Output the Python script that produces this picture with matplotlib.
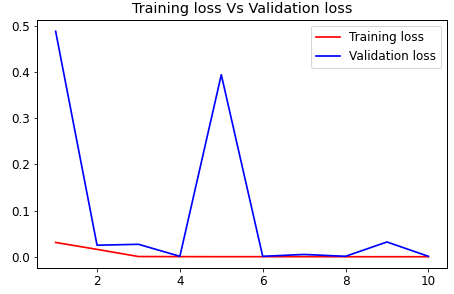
import matplotlib
matplotlib.use("Agg")
import matplotlib.pyplot as plt

epochs = [1, 2, 3, 4, 5, 6, 7, 8, 9, 10]
train_loss = [0.031, 0.016, 0.0005, 0.0003, 0.0002, 0.0002, 0.0002, 0.0001, 0.0001, 0.0001]
val_loss = [0.488, 0.025, 0.027, 0.001, 0.394, 0.001, 0.005, 0.001, 0.032, 0.001]

plt.rcParams['font.size'] = 12
plt.rcParams['lines.linewidth'] = 1.7
plt.rcParams['axes.linewidth'] = 1.0

fig = plt.figure(figsize=(454/72, 294/72), dpi=72)
ax = fig.add_axes([37/454, 1-268/294, (447-37)/454, (268-20)/294])
ax.plot(epochs, train_loss, color='red', label='Training loss')
ax.plot(epochs, val_loss, color='blue', label='Validation loss')
ax.set_title('Training loss Vs Validation loss', fontsize=14.4, pad=7)
ax.legend()
fig.savefig('out.png', dpi=72)
